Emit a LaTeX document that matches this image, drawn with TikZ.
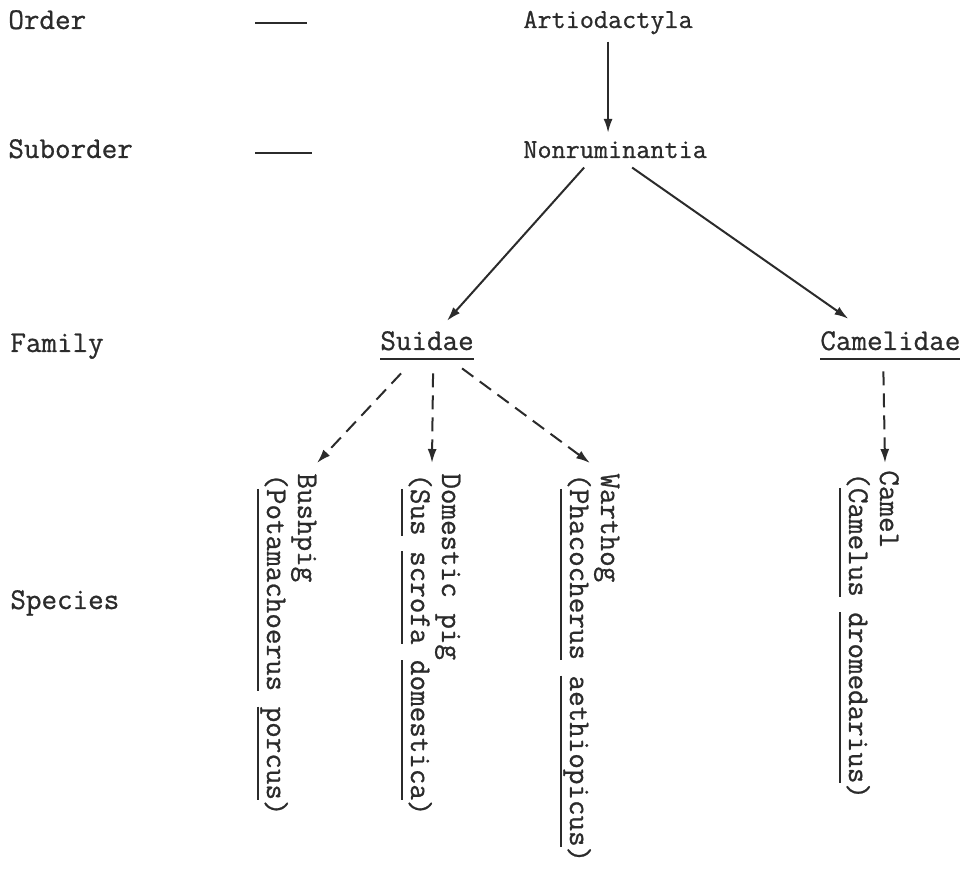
\documentclass[tikz,border=0pt]{standalone}
\usepackage{fontspec}
\usepackage{xcolor}
\usepackage{tikz}
\usetikzlibrary{calc,arrows.meta}
\newfontfamily\tw[FakeBold=0.8]{Latin Modern Mono}
\definecolor{ink}{HTML}{2B2B2B}
\newcommand{\uword}[1]{\setbox0=\hbox{#1}\rlap{\rule[-5pt]{\wd0}{1.1pt}}\box0{}}
\tikzset{
  lab/.style={inner sep=0pt, anchor=base west, text=ink, font=\tw\fontsize{15.1}{17}\selectfont},
  labs/.style={lab, font=\tw\fontsize{13.7}{16}\selectfont},
  vlab/.style={lab, rotate=-90},
  link/.style={draw=ink, line width=1pt, -{Latex[length=7pt,width=4.5pt]}},
  dlink/.style={link, dash pattern=on 7pt off 4pt},
  rankdash/.style={draw=ink, line width=1pt},
}

\begin{document}
\begin{tikzpicture}[x=0.5pt, y=-0.5pt]
  \useasboundingbox (0,0) rectangle (969,870);

  % rank names
  \node[lab] (order) at (8,29) {Order};
  \node[lab] (subord) at (8,158) {Suborder};
  \node[lab] (family) at (10,352) {Family};
  \node[lab] (species) at (10,609) {Species};
  \draw[rankdash] (255,23) -- (307,23);
  \draw[rankdash] (255,153) -- (312,153);

  % taxa
  \node[labs] (art) at (523,28) {Artiodactyla};
  \node[labs] (non) at (523,158) {Nonruminantia};
  \node[lab] (sui) at (380,350) {\uword{Suidae}};
  \node[lab] (cam) at (820,350) {\uword{Camelidae}};

  % species
  \node[vlab] (bush) at (298,473) {Bushpig};
  \node[vlab] (bushlat) at (267,473) {(\uword{Potamachoerus} \uword{porcus})};
  \node[vlab] (dom) at (442,473) {Domestic pig};
  \node[vlab] (domlat) at (411,473) {(\uword{Sus} \uword{scrofa} \uword{domestica})};
  \node[vlab] (wart) at (601,473) {Warthog};
  \node[vlab] (wartlat) at (570,473) {(\uword{Phacocherus} \uword{aethiopicus})};
  \node[vlab] (camel) at (880,470) {Camel};
  \node[vlab] (camellat) at (849,472) {(\uword{Camelus} \uword{dromedarius})};

  % connectors
  \draw[link, shorten <=3.5pt, shorten >=4pt] (art.south) -- (art.south |- non.north);
  \draw[link] ($(non.south)+(-31,9)$) -- ($(sui.north)+(20,-10)$);
  \draw[link] ($(non.south)+(17,9)$) -- ($(cam.north)+(-42,-12)$);
  \draw[dlink] ($(sui.south)+(-26,13)$) -- ($(bush.base west)+(19,-10)$);
  \draw[dlink] ($(sui.south)+(6,13)$) -- ($(dom.base west)+(-10,-10)$);
  \draw[dlink] ($(sui.south)+(35,8)$) -- ($(wart.base west)+(-11,-10)$);
  \draw[dlink] ($(cam.south)+(-7,11)$) -- ($(camel.base west)+(5,-7)$);
\end{tikzpicture}
\end{document}
